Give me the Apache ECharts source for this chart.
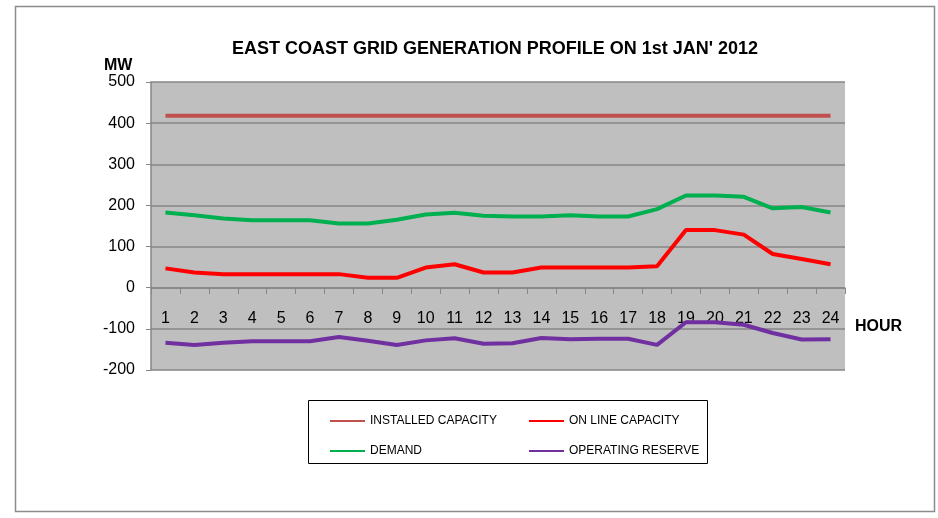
<!DOCTYPE html>
<html>
<head>
<meta charset="utf-8">
<title>East Coast Grid Generation Profile</title>
<script src="https://cdn.jsdelivr.net/npm/echarts@6/dist/echarts.min.js"></script>
<style>
  html, body { margin: 0; padding: 0; background: #fff; }
  #chart { width: 938px; height: 518px; }
</style>
</head>
<body>
<div id="chart"></div>
<script>
// hours of the day
const hours = ['1','2','3','4','5','6','7','8','9','10','11','12','13','14','15','16','17','18','19','20','21','22','23','24'];

// MW values
const installedCapacity = [418,418,418,418,418,418,418,418,418,418,418,418,418,418,418,418,418,418,418,418,418,418,418,418];
const onlineCapacity = [47,37,33,33,33,33,33,24,24,49,57,37,37,49,49,49,49,52,140,140,129,82,70,57];
const demand = [183,176,168,164,164,164,156,156,165,178,182,175,173,173,176,173,173,191,224,224,221,193,196,183];
const operatingReserve = [-134,-139,-134,-130,-130,-130,-120,-129,-139,-128,-123,-136,-135,-122,-125,-124,-124,-139,-84,-84,-90,-110,-126,-125];

const font = "'Liberation Sans Narrow', 'Liberation Sans', Arial, sans-serif";
const chart = echarts.init(document.getElementById('chart'));

const legendItem = (name, left, top) => ({
  data: [name],
  left: left,
  top: top,
  itemWidth: 35,
  itemHeight: 10,
  itemGap: 8,
  icon: 'path://M0,4 L35,4 L35,6 L0,6 Z',
  textStyle: { fontFamily: font, fontSize: 12, color: '#000' },
  selectedMode: false
});

const option = {
  animation: false,
  backgroundColor: '#fff',
  textStyle: { fontFamily: font },
  title: {
    text: "EAST COAST GRID GENERATION PROFILE ON 1st JAN' 2012",
    left: 490,
    textAlign: 'center',
    top: 35,
    textStyle: { fontFamily: font, fontSize: 18, fontWeight: 'bold', color: '#000' }
  },
  graphic: [
    { type: 'rect', shape: { x: 15.5, y: 6.5, width: 919, height: 505 }, style: { fill: 'none', stroke: '#8c8c8c', lineWidth: 1.5 }, silent: true },
    { type: 'rect', shape: { x: 308.5, y: 400.5, width: 399, height: 63 }, style: { fill: 'none', stroke: '#000', lineWidth: 1 }, silent: true },
    { type: 'text', left: 104, top: 58, style: { text: 'MW', font: 'bold 16px ' + font, fill: '#000' } },
    { type: 'text', left: 855, top: 319, style: { text: 'HOUR', font: 'bold 16px ' + font, fill: '#000' } }
  ],
  legend: [
    legendItem('INSTALLED CAPACITY', 325, 410),
    legendItem('ON LINE CAPACITY', 524, 410),
    legendItem('DEMAND', 325, 440),
    legendItem('OPERATING RESERVE', 524, 440)
  ],
  grid: {
    left: 151,
    right: 93,
    top: 82,
    bottom: 148,
    show: true,
    backgroundColor: '#bfbfbf',
    borderWidth: 0
  },
  xAxis: {
    type: 'category',
    data: hours,
    boundaryGap: true,
    // the axis sits on the zero line; move the whole axis (line, ticks, labels) up to it
    offset: -82,
    axisLine: { onZero: false, lineStyle: { color: '#868686', width: 1.5 } },
    axisTick: { show: true, inside: false, length: 6, alignWithLabel: false, lineStyle: { color: '#868686' } },
    axisLabel: { margin: 23, fontSize: 16, color: '#000', fontFamily: font, interval: 0 }
  },
  yAxis: {
    type: 'value',
    min: -200,
    max: 500,
    interval: 100,
    axisLine: { show: true, lineStyle: { color: '#868686', width: 1.5 } },
    axisTick: { show: true, length: 5, lineStyle: { color: '#868686' } },
    axisLabel: { margin: 16, fontSize: 16, color: '#000', fontFamily: font },
    splitLine: { show: true, lineStyle: { color: '#868686', width: 1.5 } }
  },
  series: [
    { name: 'INSTALLED CAPACITY', type: 'line', data: installedCapacity, symbol: 'none', color: '#c0504d', lineStyle: { width: 4, color: '#c0504d' } },
    { name: 'ON LINE CAPACITY', type: 'line', data: onlineCapacity, symbol: 'none', color: '#ff0000', lineStyle: { width: 4, color: '#ff0000' } },
    { name: 'DEMAND', type: 'line', data: demand, symbol: 'none', color: '#00b050', lineStyle: { width: 4, color: '#00b050' } },
    { name: 'OPERATING RESERVE', type: 'line', data: operatingReserve, symbol: 'none', color: '#7030a0', lineStyle: { width: 4, color: '#7030a0' } }
  ]
};

chart.setOption(option);
</script>
</body>
</html>
